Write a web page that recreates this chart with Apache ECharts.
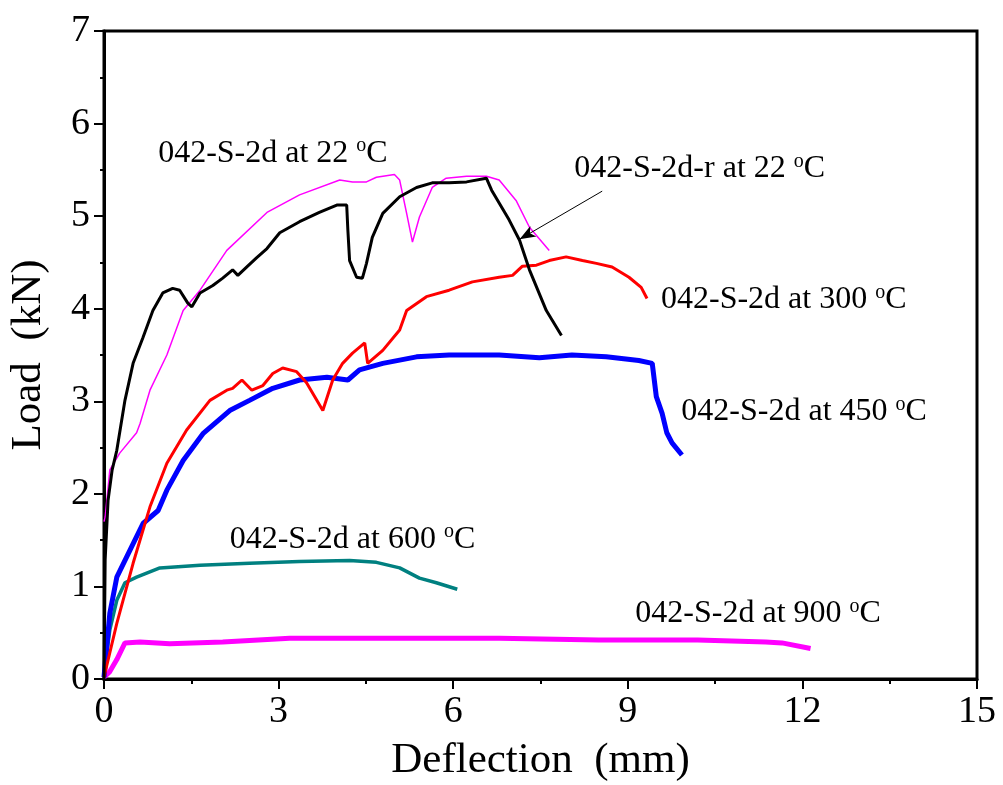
<!DOCTYPE html>
<html>
<head>
<meta charset="utf-8">
<script src="https://cdn.jsdelivr.net/npm/echarts@6/dist/echarts.min.js"></script>
<style>
  html, body { margin: 0; padding: 0; background: #fff; }
  #chart { width: 1003px; height: 785px; }
</style>
</head>
<body>
<div id="chart"></div>
<script>
// deflection (mm), load (kN)
var s22r = [[0,0],[0.02,1.29],[0.07,1.93],[0.14,2.26],[0.22,2.47],[0.36,3.01],[0.5,3.41],[0.67,3.69],[0.84,3.98],[1.01,4.17],[1.18,4.22],[1.3,4.2],[1.44,4.06],[1.51,4.02],[1.65,4.17],[1.87,4.25],[2.04,4.33],[2.21,4.42],[2.3,4.36],[2.45,4.45],[2.62,4.55],[2.8,4.65],[3.02,4.82],[3.36,4.94],[3.7,5.04],[4.0,5.12],[4.17,5.12],[4.19,4.85],[4.22,4.52],[4.34,4.34],[4.44,4.33],[4.51,4.49],[4.61,4.77],[4.79,5.03],[5.08,5.21],[5.37,5.31],[5.64,5.36],[5.93,5.36],[6.23,5.37],[6.57,5.41],[6.66,5.28],[6.96,4.96],[7.14,4.74],[7.31,4.42],[7.6,3.98],[7.86,3.71]];
var s22 = [[0,1.7],[0.02,1.75],[0.1,2.26],[0.27,2.44],[0.56,2.66],[0.62,2.76],[0.79,3.12],[1.08,3.5],[1.36,3.98],[1.65,4.2],[2.11,4.63],[2.8,5.04],[3.36,5.23],[4.05,5.39],[4.27,5.37],[4.51,5.37],[4.68,5.42],[4.99,5.45],[5.08,5.39],[5.2,5.03],[5.3,4.72],[5.42,4.99],[5.64,5.31],[5.88,5.41],[6.23,5.43],[6.57,5.43],[6.79,5.39],[7.08,5.17],[7.31,4.88],[7.65,4.63]];
var s300 = [[0,0.02],[0.22,0.6],[0.5,1.25],[0.79,1.86],[1.08,2.33],[1.42,2.69],[1.82,3.01],[2.11,3.12],[2.21,3.14],[2.37,3.23],[2.54,3.12],[2.73,3.17],[2.9,3.3],[3.07,3.36],[3.31,3.32],[3.48,3.2],[3.76,2.9],[3.93,3.23],[4.1,3.41],[4.27,3.52],[4.48,3.63],[4.53,3.41],[4.79,3.55],[5.08,3.77],[5.2,3.98],[5.54,4.13],[5.93,4.2],[6.33,4.29],[6.79,4.34],[7.02,4.36],[7.19,4.46],[7.43,4.47],[7.65,4.52],[7.94,4.56],[8.22,4.52],[8.46,4.49],[8.73,4.45],[9.02,4.34],[9.23,4.23],[9.33,4.11]];
var s450 = [[0,0.02],[0.1,0.71],[0.22,1.1],[0.39,1.32],[0.67,1.68],[0.93,1.82],[1.08,2.04],[1.36,2.36],[1.7,2.65],[2.16,2.9],[2.5,3.01],[2.9,3.14],[3.36,3.23],[3.83,3.26],[4.19,3.23],[4.39,3.34],[4.79,3.41],[5.37,3.48],[5.93,3.5],[6.79,3.5],[7.48,3.47],[8.04,3.5],[8.63,3.48],[9.19,3.44],[9.42,3.41],[9.49,3.05],[9.59,2.87],[9.67,2.66],[9.76,2.55],[9.93,2.42]];
var s600 = [[0,0.05],[0.1,0.53],[0.22,0.85],[0.36,1.04],[0.56,1.1],[0.96,1.2],[1.65,1.23],[2.5,1.25],[3.36,1.27],[4.22,1.28],[4.68,1.26],[5.08,1.2],[5.42,1.09],[5.71,1.04],[6.07,0.97]];
var s900 = [[0,0.02],[0.1,0.08],[0.22,0.21],[0.36,0.39],[0.62,0.4],[1.13,0.38],[2.04,0.4],[3.19,0.44],[6.79,0.44],[8.5,0.42],[10.2,0.42],[11.37,0.4],[11.65,0.39],[12.14,0.33]];

// annotation text and where it starts (left edge, middle), in data units
var noteTexts = ['042-S-2d at 22', '042-S-2d-r at 22', '042-S-2d at 300', '042-S-2d at 450', '042-S-2d at 600', '042-S-2d at 900'];
var notePos = [[0.93, 5.68], [8.08, 5.51], [9.57, 4.1], [9.92, 2.89], [2.16, 1.51], [9.13, 0.71]];
var arrowFrom = [8.56, 5.27];
var arrowTo = [7.14, 4.75];

var FONT = '"Liberation Serif", "Times New Roman", serif';

function line(name, data, color, width, extra) {
  var s = {
    name: name,
    type: 'line',
    data: data,
    showSymbol: false,
    symbol: 'none',
    lineStyle: { color: color, width: width },
    z: 3
  };
  if (extra) Object.assign(s, extra);
  return s;
}

var chart = echarts.init(document.getElementById('chart'));

chart.setOption({
  backgroundColor: '#fff',
  animation: false,
  grid: {
    left: 104, right: 26, top: 31, bottom: 106,
    outerBoundsMode: 'none',
    containLabel: false,
    show: true, borderColor: '#000', borderWidth: 3
  },
  xAxis: {
    type: 'value',
    min: 0, max: 15, interval: 3,
    name: 'Deflection  (mm)',
    nameLocation: 'middle',
    nameGap: 60,
    nameTextStyle: { fontFamily: FONT, fontSize: 43, color: '#000' },
    axisLine: { show: true, onZero: false, lineStyle: { color: '#000', width: 3 } },
    axisTick: { show: true, length: 10, lineStyle: { color: '#000', width: 2 } },
    minorTick: { show: true, splitNumber: 2, length: 5, lineStyle: { color: '#000', width: 2 } },
    splitLine: { show: false },
    axisLabel: { fontFamily: FONT, fontSize: 38, color: '#000', margin: 14 }
  },
  yAxis: {
    type: 'value',
    min: 0, max: 7, interval: 1,
    name: 'Load  (kN)',
    nameLocation: 'middle',
    nameGap: 54,
    nameTextStyle: { fontFamily: FONT, fontSize: 43, color: '#000' },
    axisLine: { show: true, onZero: false, lineStyle: { color: '#000', width: 3 } },
    axisTick: { show: true, length: 10, lineStyle: { color: '#000', width: 2 } },
    minorTick: { show: true, splitNumber: 2, length: 4, lineStyle: { color: '#000', width: 2 } },
    splitLine: { show: false },
    axisLabel: { fontFamily: FONT, fontSize: 38, color: '#000', margin: 14 }
  },
  series: [
    line('042-S-2d at 900 °C', s900, '#ff00ff', 5),
    line('042-S-2d at 600 °C', s600, '#008080', 3.5),
    line('042-S-2d at 450 °C', s450, '#0000ff', 5),
    line('042-S-2d at 300 °C', s300, '#ff0000', 3),
    line('042-S-2d at 22 °C', s22, '#ff00ff', 1.5),
    line('042-S-2d-r at 22 °C', s22r, '#000000', 3, {
      markLine: {
        silent: true,
        symbol: ['none', 'arrow'],
        symbolSize: [9, 16],
        label: { show: false },
        lineStyle: { color: '#000', width: 1, type: 'solid' },
        data: [[{ coord: arrowFrom }, { coord: arrowTo }]]
      }
    }),
    {
      name: 'notes',
      type: 'scatter',
      symbolSize: 0,
      silent: true,
      z: 5,
      itemStyle: { opacity: 1, color: '#000' },
      data: notePos.map(function (p, i) { return { value: p, text: noteTexts[i] }; }),
      label: {
        show: true,
        position: 'right',
        distance: 0,
        formatter: function (p) { return '{t|' + p.data.text + ' }{sup|o}{t|C}'; },
        fontFamily: FONT,
        fontSize: 32,
        color: '#000',
        rich: {
          t: { fontFamily: FONT, fontSize: 32, color: '#000', lineHeight: 34 },
          sup: { fontFamily: FONT, fontSize: 20, color: '#000', verticalAlign: 'top', lineHeight: 10 }
        }
      }
    }
  ]
});
</script>
</body>
</html>
